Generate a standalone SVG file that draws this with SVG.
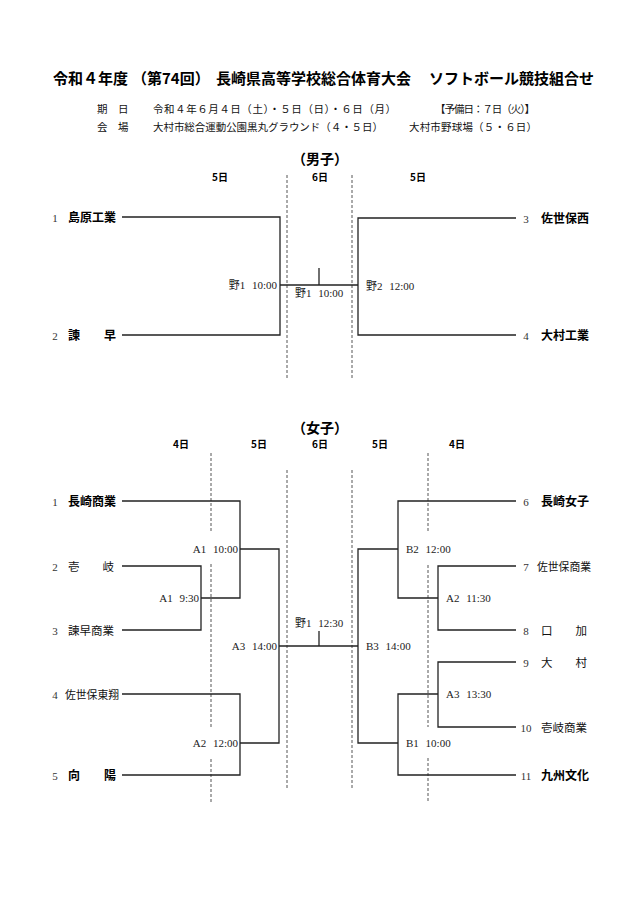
<svg xmlns="http://www.w3.org/2000/svg" width="640" height="905" viewBox="0 0 640 905">
<style>
.bg{fill:#fff}
.title{font-family:"Noto Sans CJK JP","Noto Sans CJK SC",sans-serif;font-size:15px;font-weight:700;fill:#000}
.info{font-family:"Liberation Serif","Noto Sans CJK JP",serif;font-size:10.5px;fill:#111}
.sec{font-family:"Noto Sans CJK JP",sans-serif;font-size:14px;font-weight:700;fill:#000;text-anchor:middle}
.day{font-family:"Noto Sans CJK JP",sans-serif;font-size:10px;font-weight:700;fill:#000;text-anchor:middle}
.num{font-family:"Liberation Serif",serif;font-size:11px;fill:#333;text-anchor:middle}
.nb{font-family:"Noto Sans CJK JP",sans-serif;font-size:12px;font-weight:700;fill:#000}
.nr{font-family:"Noto Sans CJK JP",sans-serif;font-size:11.5px;fill:#111}
.nr5{font-family:"Noto Sans CJK JP",sans-serif;font-size:10.8px;fill:#111}
.tm{font-family:"Liberation Serif","Noto Sans CJK JP",serif;font-size:11px;fill:#222;word-spacing:4px}
.end{text-anchor:end}
.ln{fill:none;stroke:#222;stroke-width:1.3}
.dash{fill:none;stroke:#555;stroke-width:1;stroke-dasharray:3 2}
</style>
<rect class="bg" x="0" y="0" width="640" height="905"/>

<g id="title">
<text class="title" y="84"><tspan x="53">令和４年度</tspan><tspan x="132">（第74回）</tspan><tspan x="216">長崎県高等学校総合体育大会</tspan><tspan x="429">ソフトボール競技組合せ</tspan></text>
</g>

<g id="info">
<text class="info" x="97" y="113">期　日</text>
<text class="info" x="153" y="113" textLength="243" lengthAdjust="spacing">令和４年６月４日（土）・５日（日）・６日（月）</text>
<text class="info" x="435" y="113" textLength="100" lengthAdjust="spacing">【予備日：７日（火）】</text>
<text class="info" x="97" y="131">会　場</text>
<text class="info" x="153" y="131" textLength="230" lengthAdjust="spacing">大村市総合運動公園黒丸グラウンド（４・５日）</text>
<text class="info" x="409" y="131" textLength="128" lengthAdjust="spacing">大村市野球場（５・６日）</text>
</g>

<g id="guides">
<line class="dash" x1="287" y1="175" x2="287" y2="378"/>
<line class="dash" x1="352" y1="175" x2="352" y2="378"/>
<line class="dash" x1="211" y1="453" x2="211" y2="533"/>
<line class="dash" x1="211" y1="564" x2="211" y2="727"/>
<line class="dash" x1="211" y1="759" x2="211" y2="802"/>
<line class="dash" x1="287" y1="470" x2="287" y2="788"/>
<line class="dash" x1="352" y1="470" x2="352" y2="788"/>
<line class="dash" x1="428" y1="453" x2="428" y2="533"/>
<line class="dash" x1="428" y1="565" x2="428" y2="727"/>
<line class="dash" x1="428" y1="758" x2="428" y2="802"/>
</g>

<g id="men-header">
<text class="sec" x="320" y="164">（男子）</text>
<text class="day" x="220" y="181">5日</text>
<text class="day" x="320" y="181">6日</text>
<text class="day" x="418" y="181">5日</text>
</g>

<g id="women-header">
<text class="sec" x="320" y="433">（女子）</text>
<text class="day" x="181" y="448">4日</text>
<text class="day" x="259" y="448">5日</text>
<text class="day" x="320" y="448">6日</text>
<text class="day" x="380" y="448">5日</text>
<text class="day" x="457" y="448">4日</text>
</g>

<g id="connectors">
<path class="ln" d="M122 217H280V335H122"/>
<path class="ln" d="M280 285H358"/>
<path class="ln" d="M319 268V285"/>
<path class="ln" d="M516 218H358V335H516"/>
<path class="ln" d="M122 501H240V598H201"/>
<path class="ln" d="M122 566H201V630H122"/>
<path class="ln" d="M240 549H279V743H240"/>
<path class="ln" d="M122 694H240V775H122"/>
<path class="ln" d="M279 646H358"/>
<path class="ln" d="M319 631V646"/>
<path class="ln" d="M516 501H398V598H438"/>
<path class="ln" d="M516 566H438V630H516"/>
<path class="ln" d="M398 549H358V743H398"/>
<path class="ln" d="M516 662H438V727H516"/>
<path class="ln" d="M438 694H398V775H516"/>
</g>

<g id="m-team-1"><text class="num" x="55" y="222">1</text><text class="nb" x="68" y="222">島原工業</text></g>
<g id="m-team-2"><text class="num" x="55" y="340">2</text><text class="nb" x="68" y="340">諫　　早</text></g>
<g id="m-team-3"><text class="num" x="526" y="223">3</text><text class="nb" x="541" y="223">佐世保西</text></g>
<g id="m-team-4"><text class="num" x="526" y="340">4</text><text class="nb" x="541" y="340">大村工業</text></g>

<g id="m-match-1"><text class="tm end" x="277" y="289">野1 10:00</text></g>
<g id="m-match-final"><text class="tm" x="295" y="297">野1 10:00</text></g>
<g id="m-match-2"><text class="tm" x="366" y="290">野2 12:00</text></g>

<g id="w-team-1"><text class="num" x="55" y="506">1</text><text class="nb" x="68" y="506">長崎商業</text></g>
<g id="w-team-2"><text class="num" x="55" y="571">2</text><text class="nr" x="68" y="571">壱　　岐</text></g>
<g id="w-team-3"><text class="num" x="55" y="635">3</text><text class="nr" x="68" y="635">諫早商業</text></g>
<g id="w-team-4"><text class="num" x="55" y="699">4</text><text class="nr5" x="65" y="699">佐世保東翔</text></g>
<g id="w-team-5"><text class="num" x="55" y="780">5</text><text class="nb" x="68" y="780">向　　陽</text></g>
<g id="w-team-6"><text class="num" x="526" y="506">6</text><text class="nb" x="541" y="506">長崎女子</text></g>
<g id="w-team-7"><text class="num" x="526" y="571">7</text><text class="nr5" x="537" y="571">佐世保商業</text></g>
<g id="w-team-8"><text class="num" x="526" y="635">8</text><text class="nr" x="541" y="635">口　　加</text></g>
<g id="w-team-9"><text class="num" x="526" y="667">9</text><text class="nr" x="541" y="667">大　　村</text></g>
<g id="w-team-10"><text class="num" x="526" y="732">10</text><text class="nr" x="541" y="732">壱岐商業</text></g>
<g id="w-team-11"><text class="num" x="526" y="780">11</text><text class="nb" x="541" y="780">九州文化</text></g>

<g id="w-match-a1-930"><text class="tm end" x="199" y="602">A1 9:30</text></g>
<g id="w-match-a1-1000"><text class="tm end" x="238" y="553">A1 10:00</text></g>
<g id="w-match-a2-1200"><text class="tm end" x="238" y="747">A2 12:00</text></g>
<g id="w-match-a3-1400"><text class="tm end" x="277" y="650">A3 14:00</text></g>
<g id="w-match-final"><text class="tm" x="295" y="627">野1 12:30</text></g>
<g id="w-match-b3-1400"><text class="tm" x="366" y="650">B3 14:00</text></g>
<g id="w-match-b2-1200"><text class="tm" x="406" y="553">B2 12:00</text></g>
<g id="w-match-a2-1130"><text class="tm" x="446" y="602">A2 11:30</text></g>
<g id="w-match-a3-1330"><text class="tm" x="446" y="698">A3 13:30</text></g>
<g id="w-match-b1-1000"><text class="tm" x="406" y="747">B1 10:00</text></g>
</svg>
